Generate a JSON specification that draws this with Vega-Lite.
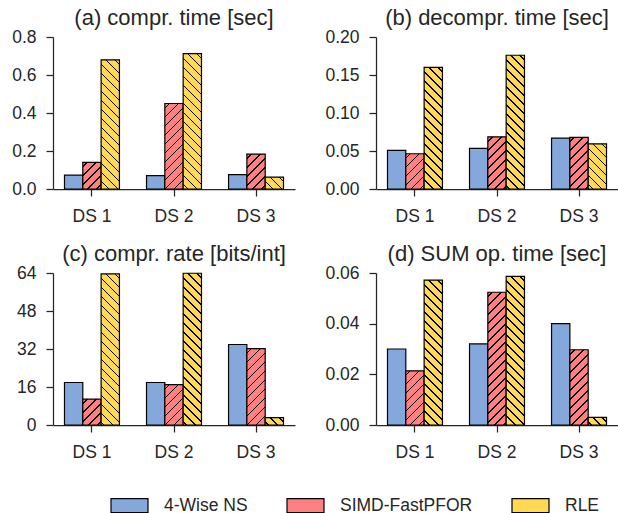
{
  "$schema": "https://vega.github.io/schema/vega-lite/v6.json",
  "padding": {"left": 11, "top": 7, "right": 0, "bottom": 12},
  "background": "white",
  "columns": 2,
  "spacing": {"row": 18, "column": 29},
  "params": [
    {"name": "hatch", "value": [
      {"offset": 0.021, "color": "rgba(0,0,0,0)"}, {"offset": 0.021, "color": "#000000"}, {"offset": 0.030, "color": "#000000"}, {"offset": 0.030, "color": "rgba(0,0,0,0)"},
      {"offset": 0.071, "color": "rgba(0,0,0,0)"}, {"offset": 0.071, "color": "#000000"}, {"offset": 0.080, "color": "#000000"}, {"offset": 0.080, "color": "rgba(0,0,0,0)"},
      {"offset": 0.121, "color": "rgba(0,0,0,0)"}, {"offset": 0.121, "color": "#000000"}, {"offset": 0.130, "color": "#000000"}, {"offset": 0.130, "color": "rgba(0,0,0,0)"},
      {"offset": 0.171, "color": "rgba(0,0,0,0)"}, {"offset": 0.171, "color": "#000000"}, {"offset": 0.180, "color": "#000000"}, {"offset": 0.180, "color": "rgba(0,0,0,0)"},
      {"offset": 0.221, "color": "rgba(0,0,0,0)"}, {"offset": 0.221, "color": "#000000"}, {"offset": 0.230, "color": "#000000"}, {"offset": 0.230, "color": "rgba(0,0,0,0)"},
      {"offset": 0.271, "color": "rgba(0,0,0,0)"}, {"offset": 0.271, "color": "#000000"}, {"offset": 0.280, "color": "#000000"}, {"offset": 0.280, "color": "rgba(0,0,0,0)"},
      {"offset": 0.321, "color": "rgba(0,0,0,0)"}, {"offset": 0.321, "color": "#000000"}, {"offset": 0.330, "color": "#000000"}, {"offset": 0.330, "color": "rgba(0,0,0,0)"},
      {"offset": 0.371, "color": "rgba(0,0,0,0)"}, {"offset": 0.371, "color": "#000000"}, {"offset": 0.380, "color": "#000000"}, {"offset": 0.380, "color": "rgba(0,0,0,0)"},
      {"offset": 0.421, "color": "rgba(0,0,0,0)"}, {"offset": 0.421, "color": "#000000"}, {"offset": 0.430, "color": "#000000"}, {"offset": 0.430, "color": "rgba(0,0,0,0)"},
      {"offset": 0.471, "color": "rgba(0,0,0,0)"}, {"offset": 0.471, "color": "#000000"}, {"offset": 0.480, "color": "#000000"}, {"offset": 0.480, "color": "rgba(0,0,0,0)"},
      {"offset": 0.521, "color": "rgba(0,0,0,0)"}, {"offset": 0.521, "color": "#000000"}, {"offset": 0.530, "color": "#000000"}, {"offset": 0.530, "color": "rgba(0,0,0,0)"},
      {"offset": 0.571, "color": "rgba(0,0,0,0)"}, {"offset": 0.571, "color": "#000000"}, {"offset": 0.580, "color": "#000000"}, {"offset": 0.580, "color": "rgba(0,0,0,0)"},
      {"offset": 0.621, "color": "rgba(0,0,0,0)"}, {"offset": 0.621, "color": "#000000"}, {"offset": 0.630, "color": "#000000"}, {"offset": 0.630, "color": "rgba(0,0,0,0)"},
      {"offset": 0.671, "color": "rgba(0,0,0,0)"}, {"offset": 0.671, "color": "#000000"}, {"offset": 0.680, "color": "#000000"}, {"offset": 0.680, "color": "rgba(0,0,0,0)"},
      {"offset": 0.721, "color": "rgba(0,0,0,0)"}, {"offset": 0.721, "color": "#000000"}, {"offset": 0.730, "color": "#000000"}, {"offset": 0.730, "color": "rgba(0,0,0,0)"},
      {"offset": 0.771, "color": "rgba(0,0,0,0)"}, {"offset": 0.771, "color": "#000000"}, {"offset": 0.780, "color": "#000000"}, {"offset": 0.780, "color": "rgba(0,0,0,0)"},
      {"offset": 0.821, "color": "rgba(0,0,0,0)"}, {"offset": 0.821, "color": "#000000"}, {"offset": 0.830, "color": "#000000"}, {"offset": 0.830, "color": "rgba(0,0,0,0)"},
      {"offset": 0.871, "color": "rgba(0,0,0,0)"}, {"offset": 0.871, "color": "#000000"}, {"offset": 0.880, "color": "#000000"}, {"offset": 0.880, "color": "rgba(0,0,0,0)"},
      {"offset": 0.921, "color": "rgba(0,0,0,0)"}, {"offset": 0.921, "color": "#000000"}, {"offset": 0.930, "color": "#000000"}, {"offset": 0.930, "color": "rgba(0,0,0,0)"},
      {"offset": 0.971, "color": "rgba(0,0,0,0)"}, {"offset": 0.971, "color": "#000000"}, {"offset": 0.980, "color": "#000000"}, {"offset": 0.980, "color": "rgba(0,0,0,0)"}
    ]}
  ],
  "config": {
    "view": {"stroke": null},
    "font": "Liberation Sans",
    "axis": {
      "grid": false,
      "domainColor": "#262626",
      "domainWidth": 1.25,
      "tickColor": "#262626",
      "tickWidth": 1.25,
      "tickSize": 7,
      "labelFont": "Liberation Sans",
      "labelFontSize": 17.5,
      "labelColor": "#262626",
      "title": null
    },
    "axisX": {"labelPadding": 11},
    "axisY": {"labelPadding": 10},
    "title": {"font": "Liberation Sans", "fontSize": 22, "fontWeight": "normal", "color": "#262626", "offset": -2, "anchor": "middle"},
    "legend": {
      "orient": "none",
      "legendX": 57,
      "legendY": 449,
      "direction": "horizontal",
      "title": null,
      "padding": 0,
      "labelFont": "Liberation Sans",
      "labelFontSize": 17.5,
      "labelColor": "#262626",
      "symbolType": "M-1,-0.378H1V0.378H-1Z",
      "symbolSize": 1369,
      "symbolStrokeColor": "black",
      "symbolStrokeWidth": 1.2,
      "symbolOpacity": 1,
      "labelOffset": 15,
      "columnPadding": 36
    }
  },
  "concat": [
    {
      "title": "(a) compr. time [sec]",
      "width": 242, "height": 152,
      "data": {"values": [
        {"ds": "DS 1", "method": "4-Wise NS", "value": 0.073},
        {"ds": "DS 1", "method": "SIMD-FastPFOR", "value": 0.140},
        {"ds": "DS 1", "method": "RLE", "value": 0.680},
        {"ds": "DS 2", "method": "4-Wise NS", "value": 0.070},
        {"ds": "DS 2", "method": "SIMD-FastPFOR", "value": 0.450},
        {"ds": "DS 2", "method": "RLE", "value": 0.712},
        {"ds": "DS 3", "method": "4-Wise NS", "value": 0.076},
        {"ds": "DS 3", "method": "SIMD-FastPFOR", "value": 0.184},
        {"ds": "DS 3", "method": "RLE", "value": 0.063}
      ]},
      "encoding": {
        "x": {"field": "ds", "type": "nominal", "scale": {"paddingInner": 0.33, "paddingOuter": 0.14}, "axis": {"labelAngle": 0}},
        "xOffset": {"field": "method", "type": "nominal", "sort": ["4-Wise NS", "SIMD-FastPFOR", "RLE"], "scale": {"paddingInner": 0, "paddingOuter": 0}},
        "y": {"field": "value", "type": "quantitative", "scale": {"domain": [0, 0.8]}, "axis": {"values": [0, 0.2, 0.4, 0.6, 0.8], "format": ".1f"}}
      },
      "layer": [
        {
          "mark": {"type": "bar", "stroke": "black", "strokeWidth": 1.2, "opacity": 1},
          "encoding": {"fill": {"field": "method", "type": "nominal", "sort": ["4-Wise NS", "SIMD-FastPFOR", "RLE"], "scale": {"domain": ["4-Wise NS", "SIMD-FastPFOR", "RLE"], "range": ["#84a7dc", "#ff8080", "#ffd953"]}}}
        },
        {
          "mark": {"type": "bar", "strokeWidth": 0, "fill": {"expr": "datum.method == 'SIMD-FastPFOR' ? {gradient: 'linear', x1: 0, y1: 0, x2: 0.1018 / (0.010363 + pow(datum.value * 1.05556, 2)), y2: datum.value * 1.05556 / (0.010363 + pow(datum.value * 1.05556, 2)), stops: hatch} : datum.method == 'RLE' ? {gradient: 'linear', x1: 1, y1: 0, x2: 1 - 0.1018 / (0.010363 + pow(datum.value * 1.05556, 2)), y2: datum.value * 1.05556 / (0.010363 + pow(datum.value * 1.05556, 2)), stops: hatch} : 'rgba(0,0,0,0)'"}}
        }
      ]
    },
    {
      "title": "(b) decompr. time [sec]",
      "width": 242, "height": 152,
      "data": {"values": [
        {"ds": "DS 1", "method": "4-Wise NS", "value": 0.0508},
        {"ds": "DS 1", "method": "SIMD-FastPFOR", "value": 0.0464},
        {"ds": "DS 1", "method": "RLE", "value": 0.160},
        {"ds": "DS 2", "method": "4-Wise NS", "value": 0.0534},
        {"ds": "DS 2", "method": "SIMD-FastPFOR", "value": 0.0687},
        {"ds": "DS 2", "method": "RLE", "value": 0.176},
        {"ds": "DS 3", "method": "4-Wise NS", "value": 0.067},
        {"ds": "DS 3", "method": "SIMD-FastPFOR", "value": 0.068},
        {"ds": "DS 3", "method": "RLE", "value": 0.0595}
      ]},
      "encoding": {
        "x": {"field": "ds", "type": "nominal", "scale": {"paddingInner": 0.33, "paddingOuter": 0.14}, "axis": {"labelAngle": 0}},
        "xOffset": {"field": "method", "type": "nominal", "sort": ["4-Wise NS", "SIMD-FastPFOR", "RLE"], "scale": {"paddingInner": 0, "paddingOuter": 0}},
        "y": {"field": "value", "type": "quantitative", "scale": {"domain": [0, 0.2]}, "axis": {"values": [0, 0.05, 0.1, 0.15, 0.2], "format": ".2f"}}
      },
      "layer": [
        {
          "mark": {"type": "bar", "stroke": "black", "strokeWidth": 1.2, "opacity": 1},
          "encoding": {"fill": {"field": "method", "type": "nominal", "sort": ["4-Wise NS", "SIMD-FastPFOR", "RLE"], "scale": {"domain": ["4-Wise NS", "SIMD-FastPFOR", "RLE"], "range": ["#84a7dc", "#ff8080", "#ffd953"]}}}
        },
        {
          "mark": {"type": "bar", "strokeWidth": 0, "fill": {"expr": "datum.method == 'SIMD-FastPFOR' ? {gradient: 'linear', x1: 0, y1: 0, x2: 0.1018 / (0.010363 + pow(datum.value * 4.22222, 2)), y2: datum.value * 4.22222 / (0.010363 + pow(datum.value * 4.22222, 2)), stops: hatch} : datum.method == 'RLE' ? {gradient: 'linear', x1: 1, y1: 0, x2: 1 - 0.1018 / (0.010363 + pow(datum.value * 4.22222, 2)), y2: datum.value * 4.22222 / (0.010363 + pow(datum.value * 4.22222, 2)), stops: hatch} : 'rgba(0,0,0,0)'"}}
        }
      ]
    },
    {
      "title": "(c) compr. rate [bits/int]",
      "width": 242, "height": 152,
      "data": {"values": [
        {"ds": "DS 1", "method": "4-Wise NS", "value": 17.9},
        {"ds": "DS 1", "method": "SIMD-FastPFOR", "value": 10.9},
        {"ds": "DS 1", "method": "RLE", "value": 63.6},
        {"ds": "DS 2", "method": "4-Wise NS", "value": 17.9},
        {"ds": "DS 2", "method": "SIMD-FastPFOR", "value": 17.0},
        {"ds": "DS 2", "method": "RLE", "value": 63.9},
        {"ds": "DS 3", "method": "4-Wise NS", "value": 33.9},
        {"ds": "DS 3", "method": "SIMD-FastPFOR", "value": 32.2},
        {"ds": "DS 3", "method": "RLE", "value": 3.1}
      ]},
      "encoding": {
        "x": {"field": "ds", "type": "nominal", "scale": {"paddingInner": 0.33, "paddingOuter": 0.14}, "axis": {"labelAngle": 0}},
        "xOffset": {"field": "method", "type": "nominal", "sort": ["4-Wise NS", "SIMD-FastPFOR", "RLE"], "scale": {"paddingInner": 0, "paddingOuter": 0}},
        "y": {"field": "value", "type": "quantitative", "scale": {"domain": [0, 64]}, "axis": {"values": [0, 16, 32, 48, 64], "format": "d"}}
      },
      "layer": [
        {
          "mark": {"type": "bar", "stroke": "black", "strokeWidth": 1.2, "opacity": 1},
          "encoding": {"fill": {"field": "method", "type": "nominal", "sort": ["4-Wise NS", "SIMD-FastPFOR", "RLE"], "scale": {"domain": ["4-Wise NS", "SIMD-FastPFOR", "RLE"], "range": ["#84a7dc", "#ff8080", "#ffd953"]}}}
        },
        {
          "mark": {"type": "bar", "strokeWidth": 0, "fill": {"expr": "datum.method == 'SIMD-FastPFOR' ? {gradient: 'linear', x1: 0, y1: 0, x2: 0.1018 / (0.010363 + pow(datum.value * 0.0131944, 2)), y2: datum.value * 0.0131944 / (0.010363 + pow(datum.value * 0.0131944, 2)), stops: hatch} : datum.method == 'RLE' ? {gradient: 'linear', x1: 1, y1: 0, x2: 1 - 0.1018 / (0.010363 + pow(datum.value * 0.0131944, 2)), y2: datum.value * 0.0131944 / (0.010363 + pow(datum.value * 0.0131944, 2)), stops: hatch} : 'rgba(0,0,0,0)'"}}
        }
      ]
    },
    {
      "title": "(d) SUM op. time [sec]",
      "width": 242, "height": 152,
      "data": {"values": [
        {"ds": "DS 1", "method": "4-Wise NS", "value": 0.0300},
        {"ds": "DS 1", "method": "SIMD-FastPFOR", "value": 0.0214},
        {"ds": "DS 1", "method": "RLE", "value": 0.0572},
        {"ds": "DS 2", "method": "4-Wise NS", "value": 0.0320},
        {"ds": "DS 2", "method": "SIMD-FastPFOR", "value": 0.0524},
        {"ds": "DS 2", "method": "RLE", "value": 0.0587},
        {"ds": "DS 3", "method": "4-Wise NS", "value": 0.0400},
        {"ds": "DS 3", "method": "SIMD-FastPFOR", "value": 0.0297},
        {"ds": "DS 3", "method": "RLE", "value": 0.0030}
      ]},
      "encoding": {
        "x": {"field": "ds", "type": "nominal", "scale": {"paddingInner": 0.33, "paddingOuter": 0.14}, "axis": {"labelAngle": 0}},
        "xOffset": {"field": "method", "type": "nominal", "sort": ["4-Wise NS", "SIMD-FastPFOR", "RLE"], "scale": {"paddingInner": 0, "paddingOuter": 0}},
        "y": {"field": "value", "type": "quantitative", "scale": {"domain": [0, 0.06]}, "axis": {"values": [0, 0.02, 0.04, 0.06], "format": ".2f"}}
      },
      "layer": [
        {
          "mark": {"type": "bar", "stroke": "black", "strokeWidth": 1.2, "opacity": 1},
          "encoding": {"fill": {"field": "method", "type": "nominal", "sort": ["4-Wise NS", "SIMD-FastPFOR", "RLE"], "scale": {"domain": ["4-Wise NS", "SIMD-FastPFOR", "RLE"], "range": ["#84a7dc", "#ff8080", "#ffd953"]}}}
        },
        {
          "mark": {"type": "bar", "strokeWidth": 0, "fill": {"expr": "datum.method == 'SIMD-FastPFOR' ? {gradient: 'linear', x1: 0, y1: 0, x2: 0.1018 / (0.010363 + pow(datum.value * 14.0741, 2)), y2: datum.value * 14.0741 / (0.010363 + pow(datum.value * 14.0741, 2)), stops: hatch} : datum.method == 'RLE' ? {gradient: 'linear', x1: 1, y1: 0, x2: 1 - 0.1018 / (0.010363 + pow(datum.value * 14.0741, 2)), y2: datum.value * 14.0741 / (0.010363 + pow(datum.value * 14.0741, 2)), stops: hatch} : 'rgba(0,0,0,0)'"}}
        }
      ]
    }
  ]
}
